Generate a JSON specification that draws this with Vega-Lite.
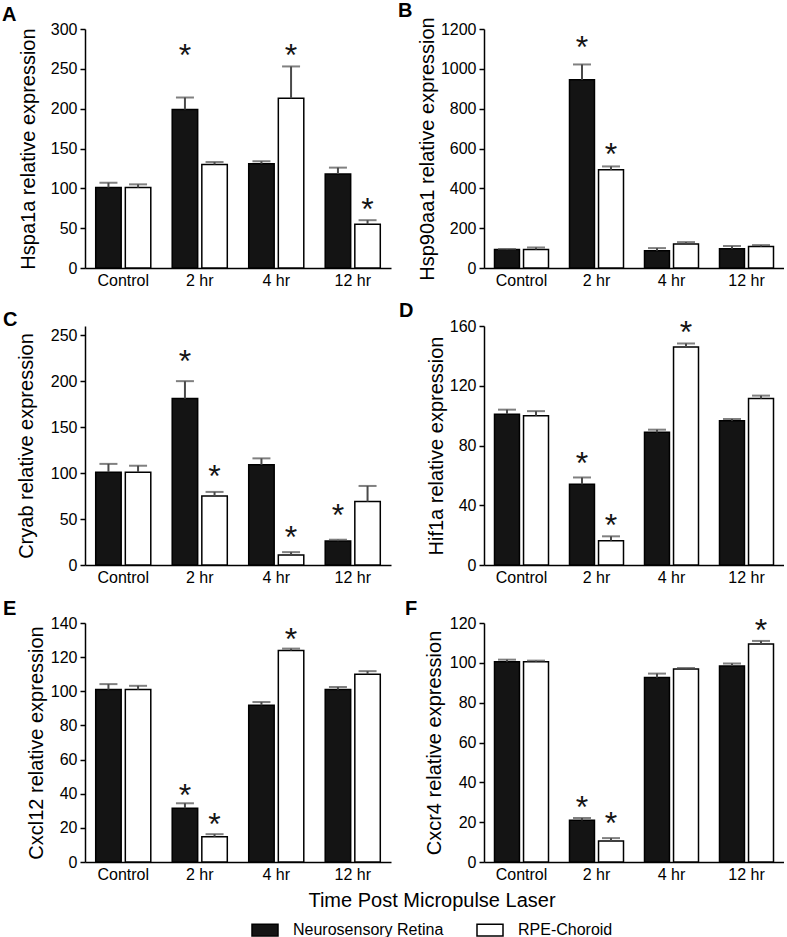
{
  "$schema": "https://vega.github.io/schema/vega-lite/v6.json",
  "padding": {"left": 2, "top": 0, "right": 0, "bottom": 0},
  "datasets": {
    "expr": [
      {"p": "A", "t": "Control", "g": "Neurosensory Retina", "m": 101, "u": 107},
      {"p": "A", "t": "Control", "g": "RPE-Choroid", "m": 101, "u": 105},
      {"p": "A", "t": "2 hr", "g": "Neurosensory Retina", "m": 199, "u": 214, "s": 276},
      {"p": "A", "t": "2 hr", "g": "RPE-Choroid", "m": 130, "u": 133},
      {"p": "A", "t": "4 hr", "g": "Neurosensory Retina", "m": 131, "u": 134},
      {"p": "A", "t": "4 hr", "g": "RPE-Choroid", "m": 213, "u": 253, "s": 276},
      {"p": "A", "t": "12 hr", "g": "Neurosensory Retina", "m": 118, "u": 126},
      {"p": "A", "t": "12 hr", "g": "RPE-Choroid", "m": 55, "u": 60, "s": 83},
      {"p": "B", "t": "Control", "g": "Neurosensory Retina", "m": 93, "u": 95},
      {"p": "B", "t": "Control", "g": "RPE-Choroid", "m": 93, "u": 103},
      {"p": "B", "t": "2 hr", "g": "Neurosensory Retina", "m": 945, "u": 1022, "s": 1145},
      {"p": "B", "t": "2 hr", "g": "RPE-Choroid", "m": 493, "u": 510, "s": 607},
      {"p": "B", "t": "4 hr", "g": "Neurosensory Retina", "m": 87, "u": 100},
      {"p": "B", "t": "4 hr", "g": "RPE-Choroid", "m": 120, "u": 130},
      {"p": "B", "t": "12 hr", "g": "Neurosensory Retina", "m": 97, "u": 110},
      {"p": "B", "t": "12 hr", "g": "RPE-Choroid", "m": 108, "u": 115},
      {"p": "C", "t": "Control", "g": "Neurosensory Retina", "m": 101, "u": 110},
      {"p": "C", "t": "Control", "g": "RPE-Choroid", "m": 101, "u": 108},
      {"p": "C", "t": "2 hr", "g": "Neurosensory Retina", "m": 181, "u": 200, "s": 230},
      {"p": "C", "t": "2 hr", "g": "RPE-Choroid", "m": 75, "u": 79.5, "s": 104},
      {"p": "C", "t": "4 hr", "g": "Neurosensory Retina", "m": 109, "u": 116},
      {"p": "C", "t": "4 hr", "g": "RPE-Choroid", "m": 11, "u": 14, "s": 38},
      {"p": "C", "t": "12 hr", "g": "Neurosensory Retina", "m": 26, "u": 27.5, "s": 62},
      {"p": "C", "t": "12 hr", "g": "RPE-Choroid", "m": 69, "u": 86},
      {"p": "D", "t": "Control", "g": "Neurosensory Retina", "m": 101, "u": 104},
      {"p": "D", "t": "Control", "g": "RPE-Choroid", "m": 100, "u": 103},
      {"p": "D", "t": "2 hr", "g": "Neurosensory Retina", "m": 54, "u": 58.6, "s": 73},
      {"p": "D", "t": "2 hr", "g": "RPE-Choroid", "m": 16.3, "u": 19.2, "s": 31.3},
      {"p": "D", "t": "4 hr", "g": "Neurosensory Retina", "m": 88.8, "u": 90.6},
      {"p": "D", "t": "4 hr", "g": "RPE-Choroid", "m": 145.9, "u": 148.3, "s": 160.7},
      {"p": "D", "t": "12 hr", "g": "Neurosensory Retina", "m": 96.6, "u": 97.8},
      {"p": "D", "t": "12 hr", "g": "RPE-Choroid", "m": 111.4, "u": 113.4},
      {"p": "E", "t": "Control", "g": "Neurosensory Retina", "m": 101, "u": 104.2},
      {"p": "E", "t": "Control", "g": "RPE-Choroid", "m": 101, "u": 103.2},
      {"p": "E", "t": "2 hr", "g": "Neurosensory Retina", "m": 31.5, "u": 34.4, "s": 43.3},
      {"p": "E", "t": "2 hr", "g": "RPE-Choroid", "m": 14.8, "u": 16.3, "s": 26.4},
      {"p": "E", "t": "4 hr", "g": "Neurosensory Retina", "m": 91.8, "u": 93.7},
      {"p": "E", "t": "4 hr", "g": "RPE-Choroid", "m": 123.9, "u": 125, "s": 135},
      {"p": "E", "t": "12 hr", "g": "Neurosensory Retina", "m": 101, "u": 102.5},
      {"p": "E", "t": "12 hr", "g": "RPE-Choroid", "m": 110, "u": 111.8},
      {"p": "F", "t": "Control", "g": "Neurosensory Retina", "m": 100.6, "u": 101.6},
      {"p": "F", "t": "Control", "g": "RPE-Choroid", "m": 100.6, "u": 101.1},
      {"p": "F", "t": "2 hr", "g": "Neurosensory Retina", "m": 20.9, "u": 22.1, "s": 31},
      {"p": "F", "t": "2 hr", "g": "RPE-Choroid", "m": 10.5, "u": 12, "s": 23},
      {"p": "F", "t": "4 hr", "g": "Neurosensory Retina", "m": 92.6, "u": 94.6},
      {"p": "F", "t": "4 hr", "g": "RPE-Choroid", "m": 96.9, "u": 97.4},
      {"p": "F", "t": "12 hr", "g": "Neurosensory Retina", "m": 98.4, "u": 99.7},
      {"p": "F", "t": "12 hr", "g": "RPE-Choroid", "m": 109.5, "u": 111, "s": 120}
    ]
  },
  "data": {"name": "expr"},
  "columns": 2,
  "bounds": "flush",
  "spacing": {"row": 58, "column": 93},
  "resolve": {"scale": {"x": "independent", "y": "independent", "xOffset": "independent", "fill": "shared"}, "legend": {"fill": "shared"}},
  "concat": [
    {
      "title": {"text": "A", "dx": -83}, "width": 306, "height": 239,
      "transform": [{"filter": "datum.p == 'A'"}],
      "encoding": {
        "x": {"field": "t", "type": "nominal", "sort": ["Control", "2 hr", "4 hr", "12 hr"], "title": null, "scale": {"paddingInner": 0.28, "paddingOuter": 0.14}},
        "xOffset": {"field": "g", "type": "nominal", "scale": {"paddingInner": 0.14}}
      },
      "layer": [
        {"mark": {"type": "bar", "stroke": "black", "strokeWidth": 1.5},
         "encoding": {"y": {"field": "m", "type": "quantitative", "scale": {"domain": [0, 300]}, "axis": {"values": [0, 50, 100, 150, 200, 250, 300], "titlePadding": 12}, "title": "Hspa1a relative expression"},
           "fill": {"field": "g", "type": "nominal", "scale": {"domain": ["Neurosensory Retina", "RPE-Choroid"], "range": ["#141414", "#ffffff"]}, "legend": {"title": "Time Post Micropulse Laser", "orient": "none", "legendX": 166, "legendY": 862, "direction": "horizontal"}}}},
        {"mark": {"type": "rule", "color": "#4a4a4a", "strokeWidth": 2}, "encoding": {"y": {"field": "m", "type": "quantitative", "axis": {"values": [0, 50, 100, 150, 200, 250, 300], "titlePadding": 12}, "title": "Hspa1a relative expression"}, "y2": {"field": "u"}}},
        {"mark": {"type": "tick", "color": "#4a4a4a", "thickness": 2, "size": 18}, "encoding": {"y": {"field": "u", "type": "quantitative", "axis": {"values": [0, 50, 100, 150, 200, 250, 300], "titlePadding": 12}, "title": "Hspa1a relative expression"}}},
        {"transform": [{"filter": "isValid(datum.s)"}], "mark": {"type": "text", "text": "*", "fontSize": 32, "baseline": "alphabetic", "dy": 18, "color": "#141414"}, "encoding": {"y": {"field": "s", "type": "quantitative", "axis": {"values": [0, 50, 100, 150, 200, 250, 300], "titlePadding": 12}, "title": "Hspa1a relative expression"}}}
      ]
    },
    {
      "title": {"text": "B", "dx": -86}, "width": 300, "height": 239,
      "transform": [{"filter": "datum.p == 'B'"}],
      "encoding": {
        "x": {"field": "t", "type": "nominal", "sort": ["Control", "2 hr", "4 hr", "12 hr"], "title": null, "scale": {"paddingInner": 0.28, "paddingOuter": 0.14}},
        "xOffset": {"field": "g", "type": "nominal", "scale": {"paddingInner": 0.14}}
      },
      "layer": [
        {"mark": {"type": "bar", "stroke": "black", "strokeWidth": 1.5},
         "encoding": {"y": {"field": "m", "type": "quantitative", "scale": {"domain": [0, 1200]}, "axis": {"values": [0, 200, 400, 600, 800, 1000, 1200], "format": "d", "titlePadding": 3}, "title": "Hsp90aa1 relative expression"},
           "fill": {"field": "g", "type": "nominal", "scale": {"domain": ["Neurosensory Retina", "RPE-Choroid"], "range": ["#141414", "#ffffff"]}, "legend": {"title": "Time Post Micropulse Laser", "orient": "none", "legendX": 166, "legendY": 862, "direction": "horizontal"}}}},
        {"mark": {"type": "rule", "color": "#4a4a4a", "strokeWidth": 2}, "encoding": {"y": {"field": "m", "type": "quantitative", "axis": {"values": [0, 200, 400, 600, 800, 1000, 1200], "format": "d", "titlePadding": 3}, "title": "Hsp90aa1 relative expression"}, "y2": {"field": "u"}}},
        {"mark": {"type": "tick", "color": "#4a4a4a", "thickness": 2, "size": 18}, "encoding": {"y": {"field": "u", "type": "quantitative", "axis": {"values": [0, 200, 400, 600, 800, 1000, 1200], "format": "d", "titlePadding": 3}, "title": "Hsp90aa1 relative expression"}}},
        {"transform": [{"filter": "isValid(datum.s)"}], "mark": {"type": "text", "text": "*", "fontSize": 32, "baseline": "alphabetic", "dy": 18, "color": "#141414"}, "encoding": {"y": {"field": "s", "type": "quantitative", "axis": {"values": [0, 200, 400, 600, 800, 1000, 1200], "format": "d", "titlePadding": 3}, "title": "Hsp90aa1 relative expression"}}}
      ]
    },
    {
      "title": {"text": "C", "dx": -82}, "width": 306, "height": 239,
      "transform": [{"filter": "datum.p == 'C'"}],
      "encoding": {
        "x": {"field": "t", "type": "nominal", "sort": ["Control", "2 hr", "4 hr", "12 hr"], "title": null, "scale": {"paddingInner": 0.28, "paddingOuter": 0.14}},
        "xOffset": {"field": "g", "type": "nominal", "scale": {"paddingInner": 0.14}}
      },
      "layer": [
        {"mark": {"type": "bar", "stroke": "black", "strokeWidth": 1.5},
         "encoding": {"y": {"field": "m", "type": "quantitative", "scale": {"domain": [0, 250]}, "axis": {"values": [0, 50, 100, 150, 200, 250], "titlePadding": 14}, "title": "Cryab relative expression"},
           "fill": {"field": "g", "type": "nominal", "scale": {"domain": ["Neurosensory Retina", "RPE-Choroid"], "range": ["#141414", "#ffffff"]}, "legend": {"title": "Time Post Micropulse Laser", "orient": "none", "legendX": 166, "legendY": 862, "direction": "horizontal"}}}},
        {"mark": {"type": "rule", "color": "#4a4a4a", "strokeWidth": 2}, "encoding": {"y": {"field": "m", "type": "quantitative", "axis": {"values": [0, 50, 100, 150, 200, 250], "titlePadding": 14}, "title": "Cryab relative expression"}, "y2": {"field": "u"}}},
        {"mark": {"type": "tick", "color": "#4a4a4a", "thickness": 2, "size": 18}, "encoding": {"y": {"field": "u", "type": "quantitative", "axis": {"values": [0, 50, 100, 150, 200, 250], "titlePadding": 14}, "title": "Cryab relative expression"}}},
        {"transform": [{"filter": "isValid(datum.s)"}], "mark": {"type": "text", "text": "*", "fontSize": 32, "baseline": "alphabetic", "dy": 18, "color": "#141414"}, "encoding": {"y": {"field": "s", "type": "quantitative", "axis": {"values": [0, 50, 100, 150, 200, 250], "titlePadding": 14}, "title": "Cryab relative expression"}}}
      ]
    },
    {
      "title": {"text": "D", "dx": -85}, "width": 300, "height": 239,
      "transform": [{"filter": "datum.p == 'D'"}],
      "encoding": {
        "x": {"field": "t", "type": "nominal", "sort": ["Control", "2 hr", "4 hr", "12 hr"], "title": null, "scale": {"paddingInner": 0.28, "paddingOuter": 0.14}},
        "xOffset": {"field": "g", "type": "nominal", "scale": {"paddingInner": 0.14}}
      },
      "layer": [
        {"mark": {"type": "bar", "stroke": "black", "strokeWidth": 1.5},
         "encoding": {"y": {"field": "m", "type": "quantitative", "scale": {"domain": [0, 160]}, "axis": {"values": [0, 40, 80, 120, 160], "titlePadding": 3}, "title": "Hif1a relative expression"},
           "fill": {"field": "g", "type": "nominal", "scale": {"domain": ["Neurosensory Retina", "RPE-Choroid"], "range": ["#141414", "#ffffff"]}, "legend": {"title": "Time Post Micropulse Laser", "orient": "none", "legendX": 166, "legendY": 862, "direction": "horizontal"}}}},
        {"mark": {"type": "rule", "color": "#4a4a4a", "strokeWidth": 2}, "encoding": {"y": {"field": "m", "type": "quantitative", "axis": {"values": [0, 40, 80, 120, 160], "titlePadding": 3}, "title": "Hif1a relative expression"}, "y2": {"field": "u"}}},
        {"mark": {"type": "tick", "color": "#4a4a4a", "thickness": 2, "size": 18}, "encoding": {"y": {"field": "u", "type": "quantitative", "axis": {"values": [0, 40, 80, 120, 160], "titlePadding": 3}, "title": "Hif1a relative expression"}}},
        {"transform": [{"filter": "isValid(datum.s)"}], "mark": {"type": "text", "text": "*", "fontSize": 32, "baseline": "alphabetic", "dy": 18, "color": "#141414"}, "encoding": {"y": {"field": "s", "type": "quantitative", "axis": {"values": [0, 40, 80, 120, 160], "titlePadding": 3}, "title": "Hif1a relative expression"}}}
      ]
    },
    {
      "title": {"text": "E", "dx": -82}, "width": 306, "height": 239,
      "transform": [{"filter": "datum.p == 'E'"}],
      "encoding": {
        "x": {"field": "t", "type": "nominal", "sort": ["Control", "2 hr", "4 hr", "12 hr"], "title": null, "scale": {"paddingInner": 0.28, "paddingOuter": 0.14}},
        "xOffset": {"field": "g", "type": "nominal", "scale": {"paddingInner": 0.14}}
      },
      "layer": [
        {"mark": {"type": "bar", "stroke": "black", "strokeWidth": 1.5},
         "encoding": {"y": {"field": "m", "type": "quantitative", "scale": {"domain": [0, 140]}, "axis": {"values": [0, 20, 40, 60, 80, 100, 120, 140], "titlePadding": 4}, "title": "Cxcl12 relative expression"},
           "fill": {"field": "g", "type": "nominal", "scale": {"domain": ["Neurosensory Retina", "RPE-Choroid"], "range": ["#141414", "#ffffff"]}, "legend": {"title": "Time Post Micropulse Laser", "orient": "none", "legendX": 166, "legendY": 862, "direction": "horizontal"}}}},
        {"mark": {"type": "rule", "color": "#4a4a4a", "strokeWidth": 2}, "encoding": {"y": {"field": "m", "type": "quantitative", "axis": {"values": [0, 20, 40, 60, 80, 100, 120, 140], "titlePadding": 4}, "title": "Cxcl12 relative expression"}, "y2": {"field": "u"}}},
        {"mark": {"type": "tick", "color": "#4a4a4a", "thickness": 2, "size": 18}, "encoding": {"y": {"field": "u", "type": "quantitative", "axis": {"values": [0, 20, 40, 60, 80, 100, 120, 140], "titlePadding": 4}, "title": "Cxcl12 relative expression"}}},
        {"transform": [{"filter": "isValid(datum.s)"}], "mark": {"type": "text", "text": "*", "fontSize": 32, "baseline": "alphabetic", "dy": 18, "color": "#141414"}, "encoding": {"y": {"field": "s", "type": "quantitative", "axis": {"values": [0, 20, 40, 60, 80, 100, 120, 140], "titlePadding": 4}, "title": "Cxcl12 relative expression"}}}
      ]
    },
    {
      "title": {"text": "F", "dx": -79}, "width": 300, "height": 239,
      "transform": [{"filter": "datum.p == 'F'"}],
      "encoding": {
        "x": {"field": "t", "type": "nominal", "sort": ["Control", "2 hr", "4 hr", "12 hr"], "title": null, "scale": {"paddingInner": 0.28, "paddingOuter": 0.14}},
        "xOffset": {"field": "g", "type": "nominal", "scale": {"paddingInner": 0.14}}
      },
      "layer": [
        {"mark": {"type": "bar", "stroke": "black", "strokeWidth": 1.5},
         "encoding": {"y": {"field": "m", "type": "quantitative", "scale": {"domain": [0, 120]}, "axis": {"values": [0, 20, 40, 60, 80, 100, 120], "titlePadding": 5}, "title": "Cxcr4 relative expression"},
           "fill": {"field": "g", "type": "nominal", "scale": {"domain": ["Neurosensory Retina", "RPE-Choroid"], "range": ["#141414", "#ffffff"]}, "legend": {"title": "Time Post Micropulse Laser", "orient": "none", "legendX": 166, "legendY": 862, "direction": "horizontal"}}}},
        {"mark": {"type": "rule", "color": "#4a4a4a", "strokeWidth": 2}, "encoding": {"y": {"field": "m", "type": "quantitative", "axis": {"values": [0, 20, 40, 60, 80, 100, 120], "titlePadding": 5}, "title": "Cxcr4 relative expression"}, "y2": {"field": "u"}}},
        {"mark": {"type": "tick", "color": "#4a4a4a", "thickness": 2, "size": 18}, "encoding": {"y": {"field": "u", "type": "quantitative", "axis": {"values": [0, 20, 40, 60, 80, 100, 120], "titlePadding": 5}, "title": "Cxcr4 relative expression"}}},
        {"transform": [{"filter": "isValid(datum.s)"}], "mark": {"type": "text", "text": "*", "fontSize": 32, "baseline": "alphabetic", "dy": 18, "color": "#141414"}, "encoding": {"y": {"field": "s", "type": "quantitative", "axis": {"values": [0, 20, 40, 60, 80, 100, 120], "titlePadding": 5}, "title": "Cxcr4 relative expression"}}}
      ]
    }
  ],
  "config": {
    "font": "Liberation Sans",
    "view": {"stroke": null},
    "axis": {"labelFont": "Liberation Sans", "labelFontSize": 16, "labelColor": "black", "labelOverlap": false, "titleFont": "Liberation Sans", "titleFontSize": 20, "titleFontWeight": "normal", "titleColor": "black", "domainColor": "black", "domainWidth": 1.5, "tickColor": "black", "tickWidth": 1.5, "grid": false},
    "axisX": {"ticks": false, "labelPadding": 4, "labelAngle": 0},
    "axisY": {"tickSize": 5, "labelPadding": 3},
    "title": {"anchor": "start", "frame": "group", "fontSize": 20, "fontWeight": "bold", "font": "Liberation Sans", "color": "black", "offset": -4},
    "legend": {"labelFont": "Liberation Sans", "labelFontSize": 16, "labelColor": "black", "titleFont": "Liberation Sans", "titleFontSize": 20, "titleFontWeight": "normal", "titleColor": "black", "titleAnchor": "middle", "titlePadding": 5, "symbolType": "M-1,-0.45H1V0.45H-1Z", "symbolSize": 676, "symbolStrokeColor": "black", "symbolStrokeWidth": 1.5, "labelOffset": 14, "columnPadding": 30, "titleLimit": 400, "labelLimit": 300}
  }
}
